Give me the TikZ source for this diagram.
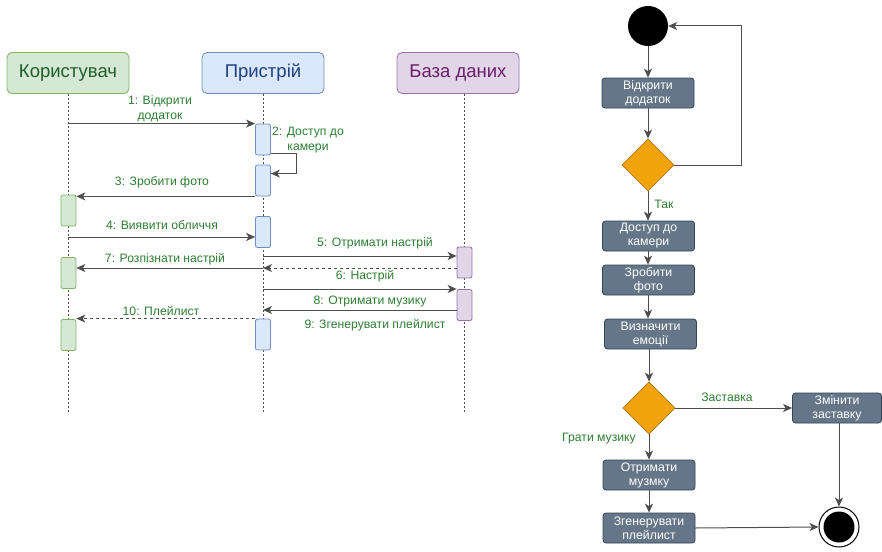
\documentclass[tikz,border=0pt]{standalone}
\usepackage{fontspec}
\setmainfont{Liberation Sans}
\usetikzlibrary{arrows.meta,shapes.geometric}
\definecolor{gfill}{HTML}{D5E8D4}\definecolor{gdraw}{HTML}{82B366}\definecolor{gtext}{HTML}{1E5E2A}
\definecolor{bfill}{HTML}{DAE8FC}\definecolor{bdraw}{HTML}{6C8EBF}\definecolor{btext}{HTML}{1F3F7F}
\definecolor{pfill}{HTML}{E1D5E7}\definecolor{pdraw}{HTML}{9673A6}\definecolor{ptext}{HTML}{6A1E6A}
\definecolor{lbl}{HTML}{2E7D32}
\definecolor{lnc}{HTML}{4D4D4D}
\definecolor{actfill}{HTML}{647687}\definecolor{actdraw}{HTML}{314354}
\definecolor{dfill}{HTML}{F0A30A}\definecolor{ddraw}{HTML}{BD7000}
\begin{document}
\begin{tikzpicture}[x=1pt,y=-1pt,
  actor/.style={draw, rounded corners=5pt, minimum width=122pt, minimum height=41pt, inner sep=0pt, line width=0.8pt, font=\fontsize{18.5}{20}\selectfont},
  actbar/.style={draw, rounded corners=2pt, minimum width=15pt, minimum height=31pt, inner sep=0pt, line width=0.8pt},
  life/.style={draw=lnc, line width=1pt, dash pattern=on 2pt off 2pt},
  msg/.style={draw=lnc, line width=1pt, -{Stealth[length=9pt,width=8pt,inset=2.5pt]}},
  dmsg/.style={msg, dash pattern=on 3pt off 3pt},
  lab/.style={text=lbl, font=\fontsize{12.2}{14.5}\selectfont, align=center, inner sep=0pt},
  abox/.style={draw=actdraw, fill=actfill, text=white, rounded corners=3pt, minimum width=92pt, minimum height=30pt, inner sep=0pt, line width=0.8pt, align=center, font=\fontsize{12.3}{14}\selectfont},
  dec/.style={diamond, aspect=1, draw=ddraw, fill=dfill, minimum width=52pt, minimum height=52pt, inner sep=0pt, line width=0.8pt}
]
\useasboundingbox (0,0) rectangle (882,551);

% ---------- sequence diagram ----------
\node[actor, draw=gdraw, fill=gfill, text=gtext] (u) at (68,73) {Користувач};
\node[actor, draw=bdraw, fill=bfill, text=btext] (p) at (263,73) {Пристрій};
\node[actor, draw=pdraw, fill=pfill, text=ptext] (b) at (458,73) {База даних};

\coordinate (uend) at (68,412);
\coordinate (pend) at (263,412);
\coordinate (bend) at (464,412);
\draw[life] (u.south) -- (uend);
\draw[life] (p.south) -- (pend);
\draw[life] (b.south -| bend) -- (bend);

\node[actbar, draw=gdraw, fill=gfill] (u1) at (68.5,210.5) {};
\node[actbar, draw=gdraw, fill=gfill] (u2) at (68.5,273) {};
\node[actbar, draw=gdraw, fill=gfill] (u3) at (68.5,335) {};
\node[actbar, draw=bdraw, fill=bfill] (p1) at (263,139.5) {};
\node[actbar, draw=bdraw, fill=bfill] (p2) at (263,180.5) {};
\node[actbar, draw=bdraw, fill=bfill] (p3) at (263,232) {};
\node[actbar, draw=bdraw, fill=bfill] (p4) at (263,334.5) {};
\node[actbar, draw=pdraw, fill=pfill] (b1) at (464.5,262.5) {};
\node[actbar, draw=pdraw, fill=pfill] (b2) at (464.5,305) {};

% messages
\draw[msg] (u |- p1.north) -- (p1.north west);
\node[lab] (l1) at (160,109) {1: Відкрити\\додаток};

\draw[msg] ([yshift=2pt]p1.south east) -- ++(26,0) |- ([yshift=-9pt]p2.north east);
\node[lab] (l2) at (308,140) {2: Доступ до\\камери};

\draw[msg] (p2.south west) -- (u1.east |- p2.south west);
\node[lab] (l3) at (162,182) {3: Зробити фото};

\coordinate (m4) at (68,237);
\draw[msg] (m4) -- (p3.west |- m4);
\node[lab] (l4) at (162,225) {4: Виявити обличчя};

\coordinate (m5) at (263,256);
\draw[msg] (m5) -- (b1.west |- m5);
\node[lab] (l5) at (375,243) {5: Отримати настрій};

\coordinate (m6) at (263,268);
\draw[dmsg] (b1.west |- m6) -- (m6);
\node[lab] (l6) at (365,276) {6: Настрій};

\draw[msg] (m6) -- (u2.east |- m6);
\node[lab] (l7) at (165,259) {7: Розпізнати настрій};

\coordinate (m8) at (263,289);
\draw[msg] (m8) -- (b2.west |- m8);
\node[lab] (l8) at (370,302) {8: Отримати музику};

\coordinate (m9) at (263,310);
\draw[msg] (b2.west |- m9) -- (m9);
\node[lab] (l9) at (375,325) {9: Згенерувати плейлист};

\draw[dmsg] (p4.north west) -- (u3.east |- p4.north west);
\node[lab] (l10) at (161,311) {10: Плейлист};

% ---------- activity diagram ----------
\node[circle, fill=black, minimum size=40pt, inner sep=0pt] (st) at (648,26) {};
\node[abox] (a1) at (648,93) {Відкрити\\додаток};
\node[dec] (d1) at (648,165) {};
\node[abox] (a2) at (648.5,236) {Доступ до\\камери};
\node[abox] (a3) at (648.5,280) {Зробити\\фото};
\node[abox] (a4) at (650.5,334) {Визначити\\емоції};
\node[dec] (d2) at (649,408) {};
\node[abox, minimum width=89pt] (a5) at (837,408) {Змінити\\заставку};
\node[abox] (a6) at (649,475) {Отримати\\музмку};
\node[abox] (a7) at (649,528) {Згенерувати\\плейлист};
\node[circle, draw=black, line width=1pt, minimum size=40pt, inner sep=0pt] (en) at (839,527) {};
\node[circle, fill=black, minimum size=31pt, inner sep=0pt] (enin) at (en) {};

\coordinate (lp) at (741,26);
\draw[msg] (st) -- (a1);
\draw[msg] (a1) -- (d1);
\draw[msg] (d1.east) -| (lp) -- (st.east);
\draw[msg] (d1.south) -- (a2.north -| d1);
\node[lab] (lt) at (664,204) {Так};
\draw[msg] (a2.south -| d1) -- (a3.north -| d1);
\draw[msg] (a3.south -| d1) -- (a4.north -| d1);
\draw[msg] (a4.south -| d2) -- (d2.north);
\draw[msg] (d2.east) -- (a5.west);
\node[lab] (lz) at (727,397) {Заставка};
\draw[msg] (d2.south) -- (a6.north -| d2);
\node[lab] (lg) at (599,439) {Грати музику};
\draw[msg] (a6) -- (a7);
\draw[msg] (a5.south -| en) -- (en.north);
\draw[msg] (a7.east) -- (en.west);
\end{tikzpicture}
\end{document}
